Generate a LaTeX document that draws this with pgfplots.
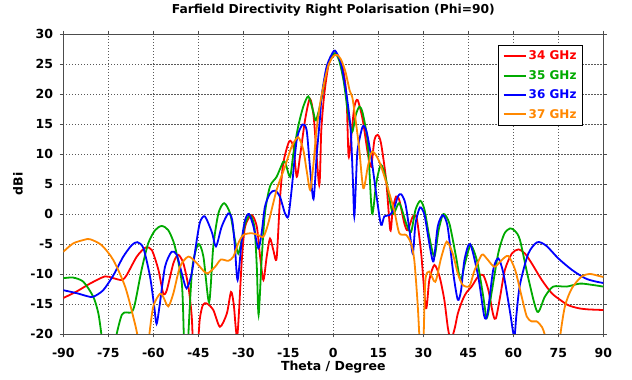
\documentclass[border=0pt]{standalone}
\usepackage{fontspec}
\setmainfont{DejaVu Sans}
\usepackage{pgfplots}
\pgfplotsset{compat=1.18}
\definecolor{cred}{RGB}{255,0,0}
\definecolor{cgreen}{RGB}{0,170,0}
\definecolor{cblue}{RGB}{0,0,255}
\definecolor{corange}{RGB}{255,136,0}
\begin{document}
\begin{tikzpicture}
\begin{axis}[name=ax, scale only axis, width=540pt, height=300pt,
  xmin=-90, xmax=90, ymin=-20, ymax=30,
  xtick={-90,-75,...,90}, ytick={-20,-15,...,30},
  grid=major,
  grid style={black!65, dash pattern=on 1.2pt off 1.8pt, line width=0.6pt},
  axis line style={black!70, line width=0.8pt},
  tick align=outside, major tick length=3.5pt,
  tick style={black!70, line width=0.6pt},
  /pgf/number format/assume math mode=true,
  ticklabel style={font=\fontsize{12.5}{14}\selectfont\bfseries, inner sep=0pt},
  xticklabel style={anchor=base, yshift=-19.5pt},
  yticklabel style={anchor=east, xshift=-6.6pt},
  xlabel={Theta / Degree}, ylabel={dBi},
  label style={font=\fontsize{12.5}{14}\selectfont\bfseries, inner sep=0pt},
  xlabel style={at={(axis description cs:0.5,-0.1233)}, anchor=base},
  ylabel style={at={(axis description cs:-0.0839,0.5)}, anchor=center},
  title={Farfield Directivity Right Polarisation (Phi=90)},
  title style={font=\fontsize{12.3}{14}\selectfont\bfseries, at={(axis description cs:0.5,1)}, anchor=base, yshift=14.5pt, inner sep=0pt},
  legend style={at={(axis description cs:0.8056,0.9633)}, anchor=north west, draw=black, line width=0.8pt,
    font=\fontsize{12}{14}\selectfont\bfseries, fill=white, inner xsep=4pt, inner ysep=3.5pt, row sep=5pt},
  legend cell align=left,
  legend image code/.code={\draw[#1, line width=2pt] (0pt,0pt) -- (22pt,0pt);},
  every axis plot/.append style={line width=1.8pt, smooth, tension=0.45},
]
\addplot[cred] coordinates {
(-90,-14.0) (-85.5,-12.9) (-81.1,-11.6) (-76.1,-10.4) (-73.3,-10.7) (-70.5,-11.0) (-68.9,-10.2)
(-65.5,-7.1) (-62.6,-5.6) (-60.5,-6.0) (-58.3,-9.3) (-56.7,-13.2) (-55.5,-12.7) (-53.3,-8.2)
(-51.7,-6.8) (-50.0,-8.2) (-48.3,-12.1) (-47.2,-17) (-46.5,-24) (-45.2,-22) (-44.5,-17.5)
(-43.5,-15.2) (-42.2,-14.9) (-40.0,-16.0) (-37.8,-18.8) (-35.5,-16.6) (-34.1,-13.0) (-33.2,-15)
(-32.0,-20.3) (-30.5,-7.7) (-29.4,-2.1) (-27.2,-0.2) (-25.5,-2.1) (-24.4,-7.1) (-23.3,-11.0)
(-22.2,-7.1) (-21.1,-4.1) (-20.0,-6.0) (-18.9,-7.4) (-17.8,2.3) (-16.7,8.4) (-14.7,12.1)
(-13.3,11.2) (-12.2,6.2) (-11.1,9.6) (-9.4,15.7) (-7.8,19.2) (-6.5,16) (-4.7,4.8) (-4.0,14)
(-3.0,20) (-1.5,25) (0.6,26.8) (2.0,25.8) (3.3,24.0) (4.4,19.6) (5.1,9.6) (6.0,13) (7.0,17.8)
(8.1,19.0) (9.8,15.7) (11.5,10.1) (12.6,7.9) (13.7,12.3) (14.8,13.2) (15.9,11.8) (17.6,5.7)
(19.0,-2.7) (19.8,0.7) (20.9,2.9) (22.0,2.3) (23.7,-1.6) (24.8,-2.7) (26.5,-0.4) (27.8,-0.7)
(29.3,-6.6) (30.9,-15.7) (32.0,-11.0) (33.7,-8.5) (35.4,-10.4) (37.0,-14.3) (38.2,-19)
(39.2,-21) (40.5,-19) (41.5,-16.6) (43.1,-14.3) (44.5,-13) (46.1,-12.1) (48.3,-10.4)
(50.0,-10.2) (51.7,-12.7) (53.3,-16.8) (54.2,-17.4) (55.6,-13.8) (57.2,-9.3) (59.5,-6.6)
(61.7,-5.9) (63.9,-6.6) (66.1,-8.2) (69.5,-11.0) (72.8,-13.2) (75.6,-14.3) (78.3,-15.2)
(81.7,-15.7) (85.0,-15.9) (90.0,-16.0)
};
\addlegendentry{\textcolor{cred}{34 GHz}}
\addplot[cgreen] coordinates {
(-90,-10.7) (-86.7,-10.6) (-83.3,-11.3) (-80.0,-13.8) (-78.3,-16.6) (-77.2,-20.5) (-76.5,-24)
(-73,-24) (-72.4,-20.5) (-70.5,-16.8) (-68.9,-16.4) (-67.2,-16.4) (-66.1,-14.9) (-63.9,-9.3)
(-61.7,-4.9) (-59.4,-2.7) (-57.2,-2.0) (-55.0,-2.7) (-52.8,-5.4) (-50.5,-11.5) (-49.8,-20.5)
(-49.3,-25) (-48.6,-25) (-48.3,-20) (-47.0,-9) (-45.0,-5.0) (-43.3,-7.1) (-41.4,-14.7)
(-40.0,-5.4) (-38.3,0.1) (-36.4,1.8) (-34.4,0.1) (-32.8,-4.3) (-31.7,-6.6) (-30.5,-4.3)
(-29.4,-1.6) (-27.8,-0.2) (-26.3,-2.1) (-25.5,-8.8) (-24.9,-16.8) (-23.9,-7.7) (-22.8,0.1)
(-21.1,4.6) (-18.9,6.2) (-16.7,8.7) (-15.9,8.4) (-14.4,6.2) (-13.3,10.1) (-11.7,14.6)
(-10.0,17.9) (-8.3,19.6) (-6.7,17.1) (-5.8,15.6) (-4.0,19) (-2.5,23.5) (-1,26) (0.6,26.8)
(2,25.5) (3.5,22) (5,16.5) (6.3,13.7) (7.5,16.5) (8.7,17.9) (9.8,16.8) (11.5,11.8)
(12.9,0.1) (14.3,5.1) (15.9,8.2) (17.6,5.7) (19.8,0.1) (22,1.8) (24.3,-1.6) (25.9,-3.0)
(27.4,0.7) (29.0,2.2) (30.4,0.7) (32.0,-3.8) (33.7,-7.1) (35.1,-2.7) (36.7,0.0) (38.7,-1.6)
(40.9,-7.1) (42.4,-11.0) (44.0,-8) (45.8,-5.2) (48,-8) (50.0,-13.8) (51.2,-17.3) (52.8,-13.0)
(55.0,-6.5) (57.0,-3.3) (58.9,-2.4) (60.5,-2.8) (62.2,-4.3) (65.0,-10.7) (68.0,-16.3)
(70.5,-13.8) (73.3,-12.1) (77.8,-12.1) (82.2,-11.6) (86.1,-11.8) (90.0,-12.1)
};
\addlegendentry{\textcolor{cgreen}{35 GHz}}
\addplot[cblue] coordinates {
(-90,-12.7) (-85.5,-13.2) (-82,-13.7) (-80.0,-13.8) (-76.7,-12.7) (-73.3,-10.2) (-70.0,-7.1)
(-67.2,-5.2) (-65.3,-4.7) (-63.3,-5.7) (-61.1,-10.4) (-59.7,-15.4) (-58.9,-18.3) (-57.8,-14.9)
(-56.1,-8.8) (-53.9,-6.3) (-52.2,-6.8) (-50.5,-9.9) (-48.9,-12.4) (-47.2,-9.9) (-45.5,-4.3)
(-44.4,-1.3) (-42.8,-0.4) (-40.5,-3.0) (-39.1,-5.4) (-37.2,-2.1) (-35.0,0.1) (-33.7,-1.0)
(-32.8,-5.4) (-31.9,-11.0) (-30.5,-4.3) (-29.4,-1.0) (-28.1,0.0) (-26.6,-2.1) (-25.0,-5.7)
(-23.9,-3.2) (-22.8,1.2) (-21.1,3.4) (-19.4,3.9) (-17.8,2.9) (-16.1,0.1) (-15.0,-0.4)
(-13.9,4.0) (-12.2,12.3) (-10.3,14.9) (-8.9,14.0) (-7.8,7.9) (-6.6,2.5) (-5.5,10) (-4.4,16.2)
(-3.9,19.6) (-2.2,24.6) (0.2,27.2) (1.5,26.5) (2.8,24.6) (4.5,19.6) (5.8,14) (6.5,6) (7.0,-0.4)
(7.6,6) (8.1,10.7) (9.8,14.6) (11.1,13.7) (12.6,9.6) (14.3,3.4) (15.9,-1.8) (17.0,-0.4)
(18.7,-0.2) (20.1,0.7) (21.5,2.9) (22.6,3.3) (24.0,1.8) (25.4,-2.7) (26.5,-6.6) (27.4,-1.6)
(28.9,1.1) (30.4,-0.2) (32.0,-4.9) (33.4,-7.9) (34.8,-2.1) (36.5,-0.2) (38.1,-2.1) (40.0,-9.9)
(41.5,-14.3) (42.6,-12.7) (43.7,-7.7) (45.6,-5.0) (48.3,-10.4) (50.3,-17.0) (51.4,-16.6)
(53.3,-9.3) (55.0,-7.4) (56.7,-9.9) (58.9,-16.3) (60.3,-20.5) (61.0,-17) (62.2,-11.8)
(65.0,-6.6) (68.0,-4.7) (71.0,-5.3) (75.0,-7.4) (79.5,-9.3) (83.9,-10.7) (87,-11.2) (90.0,-11.5)
};
\addlegendentry{\textcolor{cblue}{36 GHz}}
\addplot[corange] coordinates {
(-90,-6.3) (-86.7,-4.9) (-83,-4.3) (-81.1,-4.2) (-77.2,-5.2) (-73.3,-7.7) (-69.4,-12.1)
(-66.7,-17.1) (-65.2,-20.5) (-64.5,-25) (-62,-25) (-61.4,-20.5) (-60.0,-15.4) (-57.8,-13.3)
(-56.7,-13.8) (-55.0,-15.4) (-53.3,-13.2) (-51.1,-8.8) (-48.3,-7.1) (-45.5,-8.2) (-42.2,-9.9)
(-39.4,-8.8) (-37.5,-7.6) (-35.0,-7.8) (-33.3,-7.1) (-31.7,-4.9) (-30.0,-3.5) (-27.2,-3.2)
(-25.0,-3.5) (-23.3,-3.8) (-21.7,-1.6) (-18.9,4.0) (-16.1,7.9) (-13.9,11.2) (-11.7,12.8)
(-10.0,10.7) (-8.9,7.3) (-7.7,4.0) (-6.7,7.9) (-5.6,14.0) (-4.4,18.4) (-3.0,22) (-1.5,25)
(0,26.3) (1.3,26.5) (2.5,25.8) (4.0,23.8) (5.5,20.5) (6.5,19.0) (8.5,11.5) (10.0,4.3)
(11.5,7.9) (12.9,10.4) (14.8,9.3) (16.5,7.1) (18.7,3.4) (20.4,0.4) (22.0,-3.2) (24.3,-3.5)
(25.9,-4.9) (27.0,-7.7) (28.1,-14.9) (28.7,-20.5) (29.2,-25) (29.6,-25) (30.1,-20.5)
(30.7,-11.0) (32.0,-9.6) (34.0,-11.3) (35.9,-7.4) (37.8,-4.6) (39.8,-6.6) (41.5,-9.9)
(43.1,-11.8) (45.4,-12.0) (47.0,-9.5) (49.5,-6.8) (51.1,-7.4) (53.7,-8.8) (56.1,-7.7)
(58.3,-7.0) (60.6,-9.3) (62.8,-13.8) (64.5,-17.1) (66.1,-17.9) (67.8,-17.9) (69.5,-18.8)
(70.6,-20.5) (71.2,-25) (75,-25) (75.6,-20.5) (77.2,-15.4) (79.5,-12.4) (82.8,-10.4)
(85.6,-10.0) (88.3,-10.3) (90.0,-10.5)
};
\addlegendentry{\textcolor{corange}{37 GHz}}
\end{axis}
\pgfresetboundingbox
\path (ax.south west) ++(-63.3pt,-46pt) rectangle ++(632pt,380pt);
\end{tikzpicture}
\end{document}
